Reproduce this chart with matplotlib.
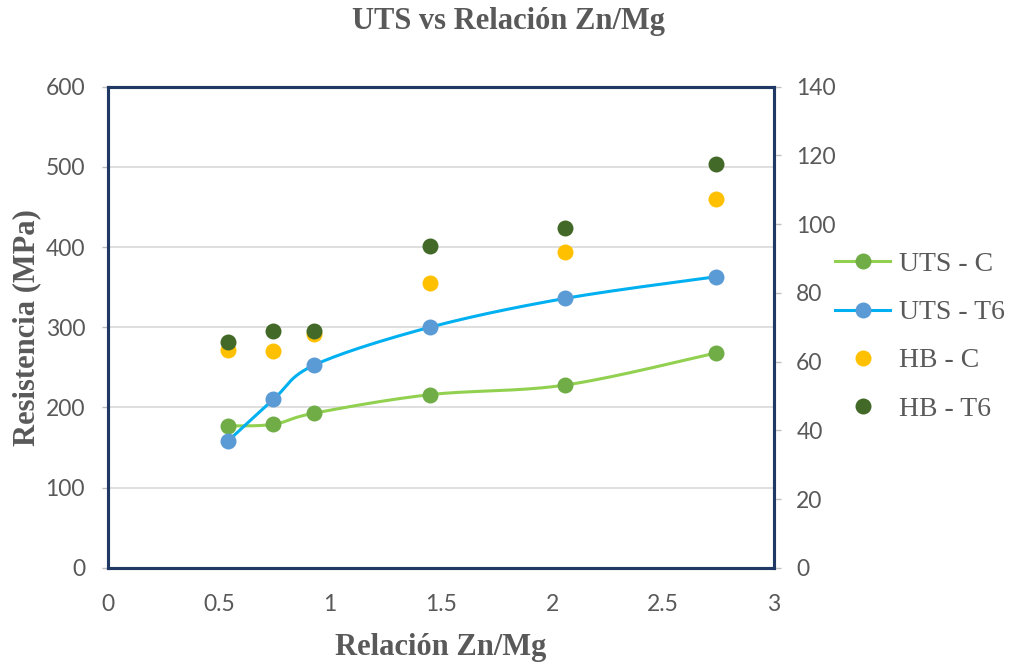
import numpy as np
import matplotlib
matplotlib.use("Agg")
import matplotlib.pyplot as plt
from matplotlib.lines import Line2D

# ---- data ----
ratio = [0.54, 0.745, 0.93, 1.45, 2.06, 2.74]
uts_c = [177, 179, 193, 216, 228, 268]
uts_t6 = [158, 210, 253, 300, 336, 363]
hb_c = [63.5, 63.0, 68.0, 83.0, 91.8, 107.2]
hb_t6 = [65.8, 68.8, 68.8, 93.7, 99.0, 117.4]

x_ticks = [0, 0.5, 1, 1.5, 2, 2.5, 3]
x_tick_labels = ["0", "0.5", "1", "1.5", "2", "2.5", "3"]
left_ticks = [0, 100, 200, 300, 400, 500, 600]
right_ticks = [0, 20, 40, 60, 80, 100, 120, 140]

title = "UTS vs Relación Zn/Mg"
xlabel = "Relación Zn/Mg"
ylabel = "Resistencia (MPa)"
labels = ["UTS - C", "UTS - T6", "HB - C", "HB - T6"]


def smooth(xs, ys, n=30, tension=0.5):
    xs = np.asarray(xs, float)
    ys = np.asarray(ys, float)
    px = np.concatenate([[xs[0]], xs, [xs[-1]]])
    py = np.concatenate([[ys[0]], ys, [ys[-1]]])
    ox, oy = [], []
    for i in range(1, len(px) - 2):
        p0, p1, p2, p3 = (np.array([px[j], py[j]]) for j in (i - 1, i, i + 1, i + 2))
        c1 = p1 + (p2 - p0) * tension / 3
        c2 = p2 - (p3 - p1) * tension / 3
        t = np.linspace(0, 1, n)[:, None]
        b = ((1 - t) ** 3) * p1 + 3 * ((1 - t) ** 2) * t * c1 + 3 * (1 - t) * t ** 2 * c2 + t ** 3 * p2
        ox.extend(b[:, 0]); oy.extend(b[:, 1])
    return np.array(ox), np.array(oy)


GRAY = "#595959"
FRAME = "#1F3864"
serif = ["Liberation Serif", "DejaVu Serif"]
sans = ["Lato", "DejaVu Sans"]

fig = plt.figure(figsize=(10.11, 6.64), dpi=100)
ax = fig.add_axes([0.1068, 0.1446, 0.6588, 0.7251])
ax2 = ax.twinx()

c_line, c_mark = "#92D050", "#70AD47"
t_line, t_mark = "#00B0F0", "#5B9BD5"
hbc_col = "#FFC000"
hbt_col = "#436928"
MS = 11.5

sx, sy = smooth(ratio, uts_c)
ax.plot(sx, sy, color=c_line, lw=2.2, zorder=3)
ax.plot(ratio, uts_c, "o", color=c_mark, ms=MS, mec="none", zorder=4)
sx, sy = smooth(ratio, uts_t6)
ax.plot(sx, sy, color=t_line, lw=2.2, zorder=3)
ax.plot(ratio, uts_t6, "o", color=t_mark, ms=MS, mec="none", zorder=4)

ax2.plot(ratio, hb_c, "o", color=hbc_col, ms=MS, mec="none", zorder=4)
ax2.plot(ratio, hb_t6, "o", color=hbt_col, ms=MS, mec="none", zorder=5)

ax.set_xlim(0, 3)
ax.set_ylim(0, 600)
ax2.set_ylim(0, 140)
ax.set_xticks(x_ticks)
ax.set_xticklabels(x_tick_labels)
ax.set_yticks(left_ticks)
ax2.set_yticks(right_ticks)
ax.grid(axis="y", color="#D9D9D9", lw=1.2)
ax.set_axisbelow(True)

for a in (ax, ax2):
    for s in a.spines.values():
        s.set_color(FRAME)
        s.set_linewidth(2.2)
    for lab in a.get_yticklabels() + a.get_xticklabels():
        lab.set_family(sans)
ax.tick_params(axis="y", length=4.5, width=1, color="#BFBFBF", labelsize=16.5, labelcolor=GRAY, pad=12)
ax.tick_params(axis="x", length=0, labelsize=16.5, labelcolor=GRAY, pad=19)
ax2.tick_params(axis="y", length=5, width=1, color="#BFBFBF", labelsize=16.5, labelcolor=GRAY, pad=11)

fig.text(0.503, 0.968, title, ha="center", va="center", family=serif, fontweight="bold",
         fontsize=22, color=GRAY)
ax.set_xlabel(xlabel, family=serif, fontweight="bold", fontsize=22, color=GRAY, labelpad=13)
ax.set_ylabel(ylabel, family=serif, fontweight="bold", fontsize=22, color=GRAY, labelpad=3)

handles = [
    Line2D([], [], color=c_line, lw=2.2, marker="o", mfc=c_mark, mec="none", ms=MS),
    Line2D([], [], color=t_line, lw=2.2, marker="o", mfc=t_mark, mec="none", ms=MS),
    Line2D([], [], color="none", marker="o", mfc=hbc_col, mec="none", ms=MS),
    Line2D([], [], color="none", marker="o", mfc=hbt_col, mec="none", ms=MS),
]
leg = fig.legend(handles, labels, loc="center left", bbox_to_anchor=(0.801, 0.493),
                 frameon=False, prop={"family": serif, "size": 20}, labelcolor=GRAY,
                 handlelength=2.0, handletextpad=0.3, labelspacing=0.82)

fig.savefig("out.png", dpi=100)
